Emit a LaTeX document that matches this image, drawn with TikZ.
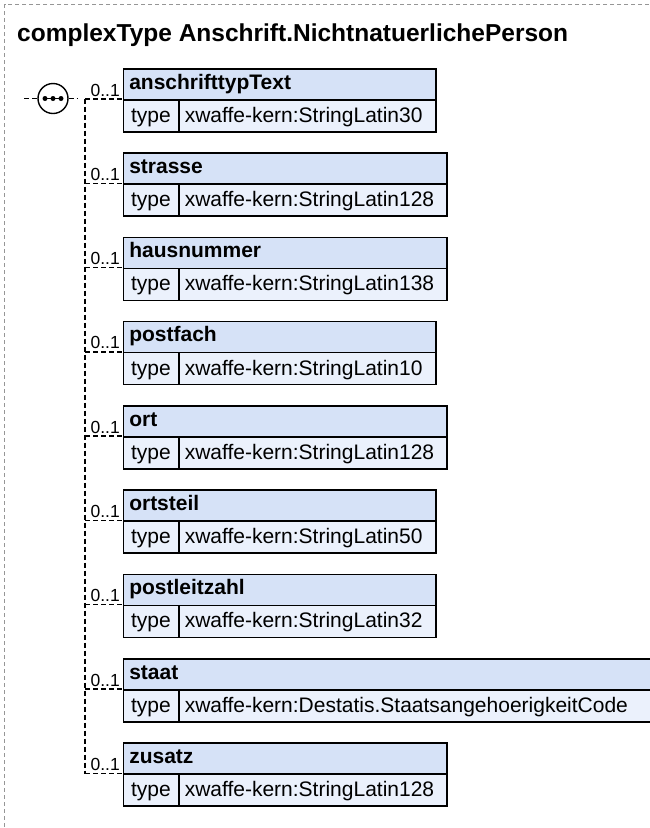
\documentclass[tikz,border=0pt]{standalone}
\usepackage{fontspec}
\setmainfont{Liberation Sans}
\definecolor{hdrblue}{RGB}{214,226,247}
\definecolor{rowblue}{RGB}{235,241,252}
\definecolor{frame}{RGB}{150,150,150}
\begin{document}
\begin{tikzpicture}[x=1pt,y=-1pt,
  hdr/.style={draw=black, line width=1.5pt, fill=hdrblue, anchor=north west, minimum height=31pt, inner xsep=6pt, inner ysep=0pt, text height=14pt, text depth=4.4pt, align=left, font=\bfseries\fontsize{21}{23}\selectfont},
  tcell/.style={draw=black, line width=1.5pt, fill=rowblue, anchor=north west, minimum height=32pt, minimum width=55.5pt, inner sep=0pt, text height=15pt, text depth=2pt, font=\fontsize{21}{23}\selectfont},
  vcell/.style={draw=black, line width=1.5pt, fill=rowblue, anchor=north west, minimum height=32pt, inner xsep=6pt, inner ysep=0pt, text height=15pt, text depth=2pt, align=left, font=\fontsize{21}{23}\selectfont},
  conn/.style={draw=black, line width=1.3pt, dash pattern=on 5pt off 3pt},
  card/.style={anchor=base east, inner sep=0pt, font=\fontsize{17.5}{19}\selectfont},
  frm/.style={draw=frame, line width=0.8pt, dash pattern=on 4pt off 3pt}
]
\useasboundingbox (0,0) rectangle (649,828);
\draw[frm] (649,4.5) -- (4.5,4.5) -- (4.5,828);
\node[anchor=base west, inner sep=0pt, font=\bfseries\fontsize{24.5}{27}\selectfont] (title) at (17,41) {complexType Anschrift.NichtnatuerlichePerson};
% compositor
\node[draw=black, line width=1.4pt, circle, minimum size=30pt, inner sep=0pt, fill=white] (seq) at (53,98.5) {};
\coordinate (inL) at (24,98.5);
\coordinate (outR) at (78,98.5);
\draw[conn] (inL) -- (seq.west);
\draw[conn] (seq.east) -- (outR);
\coordinate (d1) at (44,98.5);
\coordinate (d3) at (62,98.5);
\draw[line width=1.2pt] (d1) -- (d3);
\foreach \x in {45,53,61} \fill (\x,98.5) circle (2.5pt);
\coordinate (barTop) at (85,98.5);
\coordinate (barBot) at (85,773.5);
\draw[conn] (barTop) -- (barBot);
\foreach \i/\nm/\tp/\w/\y in {
  1/anschrifttypText/StringLatin30/312.5/68,
  2/strasse/StringLatin128/323.5/152.3,
  3/hausnummer/StringLatin138/323.5/236.6,
  4/postfach/StringLatin10/312.5/320.9,
  5/ort/StringLatin128/323.5/405.1,
  6/ortsteil/StringLatin50/312.5/489.4,
  7/postleitzahl/StringLatin32/312.5/573.7,
  8/staat/Destatis.StaatsangehoerigkeitCode/531/658,
  9/zusatz/StringLatin128/323.5/742.3}{
  \pgfmathsetmacro{\tw}{\w-12}
  \pgfmathsetmacro{\vw}{\w-55.5-12}
  \node[hdr, text width=\tw pt] (h\i) at (122.5,\y) {\nm};
  \node[tcell] (t\i) at (122.5,\y+31) {type};
  \node[vcell, text width=\vw pt] (v\i) at (178,\y+31) {xwaffe-kern:\tp};
  \coordinate (b\i) at (85,\y+31);
  \draw[conn] (b\i) -- (t\i.north west);
  \node[card] (c\i) at (120,\y+28) {0..1};
}
\end{tikzpicture}
\end{document}
